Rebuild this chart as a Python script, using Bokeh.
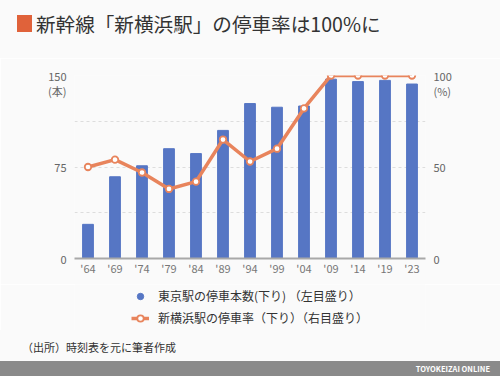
from bokeh.plotting import figure
from bokeh.models import (Range1d, LinearAxis, FixedTicker, Legend, LegendItem,
                          FactorRange, Div)
from bokeh.layouts import column
from bokeh.embed import file_html
from bokeh.resources import INLINE

years = ["'64", "'69", "'74", "'79", "'84", "'89", "'94", "'99", "'04", "'09", "'14", "'19", "'23"]
tokyo_stops = [28, 67, 76, 90, 86, 105, 127, 124, 125, 147, 145, 146, 143]
shinyoko_rate = [50, 54, 47, 38, 42, 65, 53, 60, 82, 100, 100, 100, 100]
left_ticks = [0, 75, 150]
right_ticks = [0, 50, 100]
grid_ticks = [37.5, 75, 112.5, 150]
left_unit = "(本)"
right_unit = "(%)"

title_text = "新幹線「新横浜駅」の停車率は100%に"
legend_bar = "東京駅の停車本数(下り) （左目盛り）"
legend_line = "新横浜駅の停車率（下り）（右目盛り）"
source_text = "（出所）時刻表を元に筆者作成"
brand_text = "TOYOKEIZAI ONLINE"

W = 500
HEAD_H, FIG_H, LEG_H, FOOT_H = 58, 226, 46, 46
FRAME_H = FIG_H - 17 - 26
UNIT_GAP_PX = 15  # unit caption sits this far below the top tick label
BG = "#fafafa"
FONT = "Noto Sans CJK JP"
BLUE = "#5676c4"
ORANGE = "#e8845c"

header = Div(width=W, height=HEAD_H, margin=(0, 0, 0, 0),
             styles={"background-color": BG},
             text=f"""<div style="position:relative;width:{W}px;height:{HEAD_H}px;background:{BG};font-family:'{FONT}';">
<div style="position:absolute;left:17px;top:15px;width:15px;height:17px;background:#e0623a;"></div>
<div style="position:absolute;left:36px;top:13px;font-size:19.6px;line-height:22px;color:#333333;white-space:nowrap;">{title_text}</div>
</div>""")

p = figure(width=W, height=FIG_H, output_backend="svg", toolbar_location=None,
           x_range=FactorRange(*years, range_padding=0), y_range=Range1d(0, 150),
           min_border_left=74, min_border_right=75, min_border_top=17, min_border_bottom=26,
           margin=(0, 0, 0, 0))
p.background_fill_color = BG
p.border_fill_color = BG
p.outline_line_color = None
p.extra_y_ranges = {"pct": Range1d(0, 100)}

bars = p.vbar(x=years, top=tokyo_stops, width=0.4, color=BLUE)
line = p.line(x=years, y=shinyoko_rate, y_range_name="pct", color=ORANGE, line_width=3.5)
pts = p.scatter(x=years, y=shinyoko_rate, y_range_name="pct", size=6.5,
                fill_color="white", line_color=ORANGE, line_width=1.8)

p.xgrid.grid_line_color = None
p.ygrid.ticker = FixedTicker(ticks=grid_ticks)
p.ygrid.grid_line_color = "#dddddd"
p.ygrid.grid_line_dash = "3 3"
p.ygrid.grid_line_width = 1

def style_axis(ax, color="#666666", standoff=8):
    ax.major_tick_line_color = None
    ax.minor_tick_line_color = None
    ax.major_tick_out = 0
    ax.major_tick_in = 0
    ax.minor_tick_out = 0
    ax.major_label_text_font = FONT
    ax.major_label_text_font_size = "11px"
    ax.major_label_text_color = color
    ax.major_label_standoff = standoff

def with_unit(ticks, rng, unit):
    # unit caption placed as an extra (invisible-tick) label just below the top tick
    top = max(ticks)
    pos = top - UNIT_GAP_PX * (rng.end - rng.start) / FRAME_H
    labels = {t: str(t) for t in ticks}
    labels[pos] = unit
    return FixedTicker(ticks=list(ticks) + [pos]), labels

xa = p.xaxis[0]
style_axis(xa, "#777777", 1)
xa.axis_line_color = "#a8a8a8"
xa.axis_line_width = 2

ya = p.yaxis[0]
style_axis(ya)
ya.ticker, ya.major_label_overrides = with_unit(left_ticks, p.y_range, left_unit)
ya.axis_line_color = None

ra = LinearAxis(y_range_name="pct")
style_axis(ra)
ra.ticker, ra.major_label_overrides = with_unit(right_ticks, p.extra_y_ranges["pct"], right_unit)
ra.axis_line_color = None
p.add_layout(ra, "right")

# legend panel (separate small figure so the legend is not clipped by the chart frame)
lg = figure(width=W, height=LEG_H, output_backend="svg", toolbar_location=None,
            x_range=Range1d(0, 1), y_range=Range1d(0, 1), x_axis_type=None, y_axis_type=None,
            min_border=0, margin=(0, 0, 0, 0))
lg.background_fill_color = BG
lg.border_fill_color = BG
lg.outline_line_color = None
lg.grid.grid_line_color = None
leg_bar = lg.scatter(x=[-5], y=[-5], size=11, color=BLUE)
leg_line = lg.line(x=[-5, -4], y=[-5, -5], color=ORANGE, line_width=3.5)
leg_pts = lg.scatter(x=[-5], y=[-5], size=6.5, fill_color="white", line_color=ORANGE, line_width=1.8)
legend = Legend(items=[LegendItem(label=legend_bar, renderers=[leg_bar]),
                       LegendItem(label=legend_line, renderers=[leg_line, leg_pts])],
                location=(57, 4), orientation="vertical", padding=0, margin=0,
                spacing=5, glyph_width=18, glyph_height=16, label_height=16,
                label_standoff=9, border_line_color=None, background_fill_alpha=0,
                label_text_font=FONT, label_text_font_size="12px", label_text_color="#333333")
lg.add_layout(legend)

footer = Div(width=W, height=FOOT_H, margin=(0, 0, 0, 0),
             styles={"background-color": BG},
             text=f"""<div style="position:relative;width:{W}px;height:{FOOT_H}px;background:{BG};font-family:'{FONT}';">
<div style="position:absolute;left:22px;top:9px;font-size:11px;line-height:16px;color:#333333;white-space:nowrap;">{source_text}</div>
<div style="position:absolute;left:0px;top:31px;width:{W}px;height:15px;background:#8a8a8a;"></div>
<div style="position:absolute;right:10px;top:31px;font-size:7.5px;line-height:15px;font-weight:bold;color:#ffffff;white-space:nowrap;">{brand_text}</div>
</div>""")

layout = column(header, p, lg, footer, spacing=0)
open("out.html", "w").write(file_html(layout, INLINE))
